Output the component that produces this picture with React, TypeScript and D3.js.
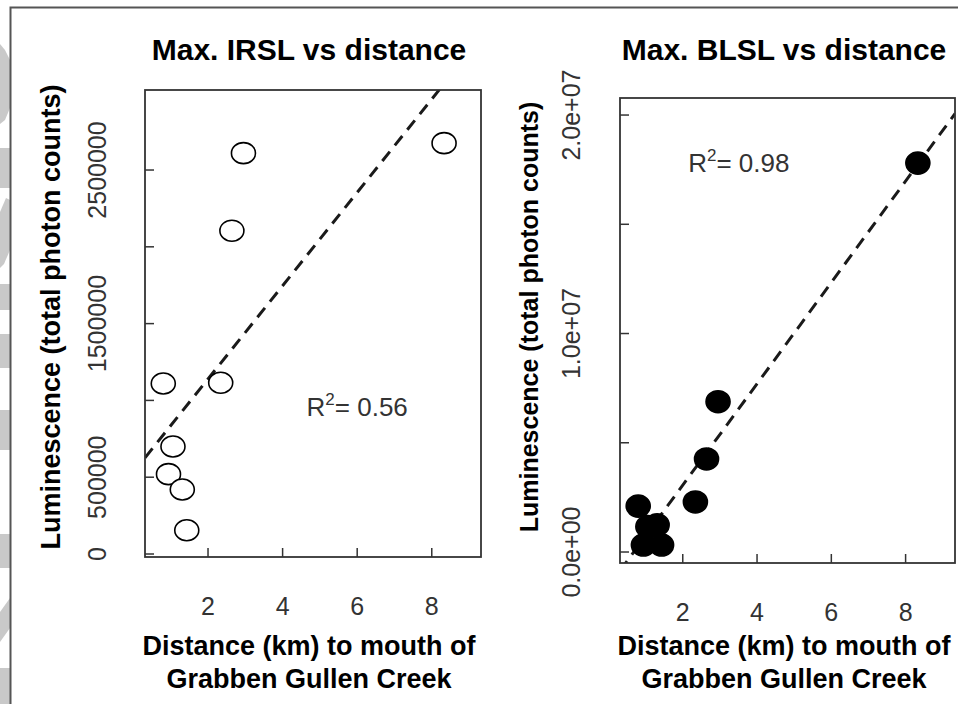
import React, { useRef, useEffect } from 'react';
import { select, scaleLinear, mean } from 'd3';

// sample sites, distance upstream from the creek mouth (km)
const distanceKm = [0.8, 0.94, 1.06, 1.31, 1.43, 2.34, 2.64, 2.95, 8.33];
// max. luminescence per site (total photon counts)
const irslCounts = [1110000, 520000, 700000, 420000, 155000, 1115000, 2105000, 2610000, 2675000];
const blslCounts = [2100000, 320000, 1160000, 1240000, 320000, 2290000, 4260000, 6880000, 17800000];

const xTicks = [2, 4, 6, 8];
const irslTicks = [0, 500000, 1000000, 1500000, 2000000, 2500000];
const irslTickLabels = ['0', '500000', '', '1500000', '', '2500000'];
const blslTicks = [0, 5000000, 10000000, 15000000, 20000000];
const blslTickLabels = ['0.0e+00', '', '1.0e+07', '', '2.0e+07'];

const titles = ['Max. IRSL vs distance', 'Max. BLSL vs distance'];
const r2Labels = ['0.56', '0.98'];
const xTitleLines = ['Distance (km) to mouth of', 'Grabben Gullen Creek'];
const yTitle = 'Luminescence (total photon counts)';

const FONT = '"Liberation Sans", Arial, Helvetica, sans-serif';

// least squares fit, like lm(y ~ x)
function fit(xs, ys) {
  const mx = mean(xs);
  const my = mean(ys);
  let sxy = 0;
  let sxx = 0;
  xs.forEach((x, i) => {
    sxy += (x - mx) * (ys[i] - my);
    sxx += (x - mx) * (x - mx);
  });
  const b = sxy / sxx;
  return { a: my - b * mx, b };
}

function App() {
  const svgRef = useRef(null);

  useEffect(() => {
    const svg = select(svgRef.current);
    svg.selectAll('*').remove();

    // faint watermark left over at the left edge of the scan
    const wm = svg.append('g').attr('fill', '#c9c9c9');
    wm.append('path').attr('d', 'M0,44 L5,50 L10,60 L10,108 L5,120 L0,124 Z');
    wm.append('rect').attr('x', 0).attr('y', 148).attr('width', 10).attr('height', 40);
    wm.append('path').attr('d', 'M0,212 L6,198 L10,200 L10,250 L4,264 L0,268 Z');
    wm.append('rect').attr('x', 0).attr('y', 284).attr('width', 10).attr('height', 26);
    wm.append('rect').attr('x', 0).attr('y', 334).attr('width', 10).attr('height', 34);
    wm.append('rect').attr('x', 0).attr('y', 410).attr('width', 10).attr('height', 40);
    wm.append('rect').attr('x', 0).attr('y', 534).attr('width', 10).attr('height', 34);
    wm.append('path').attr('d', 'M0,612 L10,598 L10,628 L0,642 Z');
    wm.append('rect').attr('x', 0).attr('y', 668).attr('width', 10).attr('height', 36);

    // figure frame
    svg
      .append('path')
      .attr('d', 'M10.5,704 L10.5,7.5 L958,7.5')
      .attr('fill', 'none')
      .attr('stroke', '#555')
      .attr('stroke-width', 2);

    const panels = [
      {
        title: titles[0],
        ys: irslCounts,
        yTicks: irslTicks,
        yLabels: irslTickLabels,
        box: { left: 145, right: 481, top: 90, bottom: 557 },
        xDomain: [0.31, 9.32],
        yDomain: [-19500, 3021000],
        filled: false,
        r2: r2Labels[0],
        r2At: [6, 960000],
        centerX: 309,
        yTickX: 106,
        yTitleX: 60,
        yTitleSize: 27,
      },
      {
        title: titles[1],
        ys: blslCounts,
        yTicks: blslTicks,
        yLabels: blslTickLabels,
        box: { left: 620, right: 955, top: 98, bottom: 563 },
        xDomain: [0.31, 9.33],
        yDomain: [-503000, 20780000],
        filled: true,
        r2: r2Labels[1],
        r2At: [3.51, 17800000],
        centerX: 784,
        yTickX: 580,
        yTitleX: 538,
        yTitleSize: 25,
      },
    ];

    panels.forEach((p, pi) => {
      const { box } = p;
      const x = scaleLinear().domain(p.xDomain).range([box.left, box.right]);
      const y = scaleLinear().domain(p.yDomain).range([box.bottom, box.top]);
      const g = svg.append('g');

      // clip for the regression line
      const clipId = `clip-${pi}`;
      svg
        .append('clipPath')
        .attr('id', clipId)
        .append('rect')
        .attr('x', box.left)
        .attr('y', box.top)
        .attr('width', box.right - box.left)
        .attr('height', box.bottom - box.top);

      // title
      g.append('text')
        .attr('x', p.centerX)
        .attr('y', 60)
        .attr('text-anchor', 'middle')
        .attr('font-family', FONT)
        .attr('font-weight', 'bold')
        .attr('font-size', 30)
        .text(p.title);

      // regression line, drawn under the points
      const { a, b } = fit(distanceKm, p.ys);
      g.append('line')
        .attr('clip-path', `url(#${clipId})`)
        .attr('x1', x(p.xDomain[0]))
        .attr('y1', y(a + b * p.xDomain[0]))
        .attr('x2', x(p.xDomain[1]))
        .attr('y2', y(a + b * p.xDomain[1]))
        .attr('stroke', '#1a1a1a')
        .attr('stroke-width', 3)
        .attr('stroke-dasharray', '12,8');

      // box
      g.append('rect')
        .attr('x', box.left)
        .attr('y', box.top)
        .attr('width', box.right - box.left)
        .attr('height', box.bottom - box.top)
        .attr('fill', 'none')
        .attr('stroke', '#333')
        .attr('stroke-width', 1.8);

      // x ticks (inward) and labels
      g.selectAll('.xtick')
        .data(xTicks)
        .join('line')
        .attr('class', 'xtick')
        .attr('x1', (d) => x(d))
        .attr('x2', (d) => x(d))
        .attr('y1', box.bottom)
        .attr('y2', box.bottom - 9)
        .attr('stroke', '#333')
        .attr('stroke-width', 1.5);
      g.selectAll('.xlabel')
        .data(xTicks)
        .join('text')
        .attr('class', 'xlabel')
        .attr('x', (d) => x(d))
        .attr('y', box.bottom + 58)
        .attr('text-anchor', 'middle')
        .attr('font-family', FONT)
        .attr('font-size', 25)
        .attr('fill', '#333')
        .text((d) => d);

      // y ticks (inward) and rotated labels
      g.selectAll('.ytick')
        .data(p.yTicks)
        .join('line')
        .attr('class', 'ytick')
        .attr('x1', box.left)
        .attr('x2', box.left + 9)
        .attr('y1', (d) => y(d))
        .attr('y2', (d) => y(d))
        .attr('stroke', '#333')
        .attr('stroke-width', 1.5);
      g.selectAll('.ylabel')
        .data(p.yTicks.filter((d, i) => p.yLabels[i] !== ''))
        .join('text')
        .attr('class', 'ylabel')
        .attr('transform', (d) => `translate(${p.yTickX},${y(d)}) rotate(-90)`)
        .attr('text-anchor', 'middle')
        .attr('font-family', FONT)
        .attr('font-size', 25)
        .attr('fill', '#333')
        .text((d) => p.yLabels[p.yTicks.indexOf(d)]);

      // axis titles
      const xt = g
        .append('text')
        .attr('text-anchor', 'middle')
        .attr('font-family', FONT)
        .attr('font-weight', 'bold')
        .attr('font-size', 27);
      xTitleLines.forEach((line, i) => {
        xt.append('tspan')
          .attr('x', p.centerX)
          .attr('y', 655 + i * 33)
          .text(line);
      });
      g.append('text')
        .attr('transform', `translate(${p.yTitleX},317) rotate(-90)`)
        .attr('text-anchor', 'middle')
        .attr('font-family', FONT)
        .attr('font-weight', 'bold')
        .attr('font-size', p.yTitleSize)
        .text(yTitle);

      // points
      g.selectAll('.pt')
        .data(distanceKm)
        .join('ellipse')
        .attr('class', 'pt')
        .attr('cx', (d) => x(d))
        .attr('cy', (d, i) => y(p.ys[i]))
        .attr('rx', 12)
        .attr('ry', p.filled ? 11 : 10.5)
        .attr('fill', p.filled ? '#000' : '#fff')
        .attr('stroke', '#000')
        .attr('stroke-width', 1.6);

      // R squared note
      const r2 = g
        .append('text')
        .attr('x', x(p.r2At[0]))
        .attr('y', y(p.r2At[1]) + 9)
        .attr('text-anchor', 'middle')
        .attr('font-family', FONT)
        .attr('font-size', 26)
        .attr('fill', '#333');
      r2.append('tspan').text('R');
      r2.append('tspan').attr('font-size', 17).attr('dy', -11).text('2');
      r2.append('tspan').attr('dy', 11).text(`= ${p.r2}`);
    });
  }, []);

  return (
    <svg
      ref={svgRef}
      width={958}
      height={704}
      style={{ position: 'absolute', left: 0, top: 0, background: '#fff' }}
    />
  );
}

export default App;
